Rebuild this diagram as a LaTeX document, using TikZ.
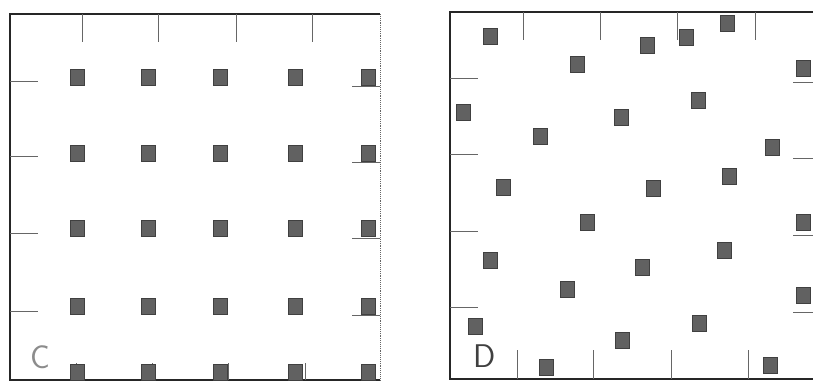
\documentclass[tikz,border=0pt]{standalone}
\usepackage{tikz}

\tikzset{
  blot/.style={draw=black!75, fill=black!62, line width=0.4pt,
    minimum width=0.42cm, minimum height=0.47cm, inner sep=0pt},
  frame/.style={black!85, line width=1.3pt},
  tick/.style={black!60, line width=0.8pt},
  panel/.style={font=\sffamily\fontsize{28}{28}\selectfont}
}

\begin{document}
\begin{tikzpicture}[x=0.03cm, y=-0.03cm]
    \useasboundingbox (0,0) rectangle (813,381);

    % 左图 C: 规则排列
    \draw[frame] (380,14) -- (10,14) -- (10,380) -- (380,380);
    \draw[black!60, line width=0.6pt, densely dotted] (380,14) -- (380,380);

    % 刻度
    \foreach \x in {82,158,236,312} \draw[tick] (\x,14) -- (\x,42);
    \foreach \y in {81,156,233,311} \draw[tick] (10,\y) -- (38,\y);
    \foreach \y in {86,162,238,315} \draw[tick] (352,\y) -- (380,\y);
    \foreach \x in {76,152,228,305} \draw[tick] (\x,380) -- (\x,363);

    % 方块 5 x 5
    \foreach \x [count=\i] in {77,148,220,295,368}
      \foreach \y [count=\j] in {77,153,228,306,372}
        \node[blot] (c\i\j) at (\x,\y) {};

    \node[panel, text=black!45] (labc) at (40,357) {C};

    % 右图 D: 随机排列
    \draw[frame] (813,12) -- (450,12) -- (450,379) -- (813,379);

    % 刻度
    \foreach \x in {523,600,677,755} \draw[tick] (\x,12) -- (\x,40);
    \foreach \y in {78,154,231,307} \draw[tick] (450,\y) -- (478,\y);
    \foreach \y in {82,158,235,312} \draw[tick] (793,\y) -- (813,\y);
    \foreach \x in {517,593,671,748} \draw[tick] (\x,379) -- (\x,350);

    % 方块
    \foreach \x/\y [count=\i] in {490/36, 577/64, 647/45, 686/37, 727/23,
        803/68, 463/112, 540/136, 621/117, 698/100, 772/147,
        503/187, 653/188, 729/176, 587/222, 803/222,
        490/260, 642/267, 724/250, 567/289, 803/295,
        475/326, 699/323, 622/340, 546/367, 770/365}
      \node[blot] (d\i) at (\x,\y) {};

    \node[panel, text=black!75] (labd) at (485,356) {D};
\end{tikzpicture}
\end{document}
